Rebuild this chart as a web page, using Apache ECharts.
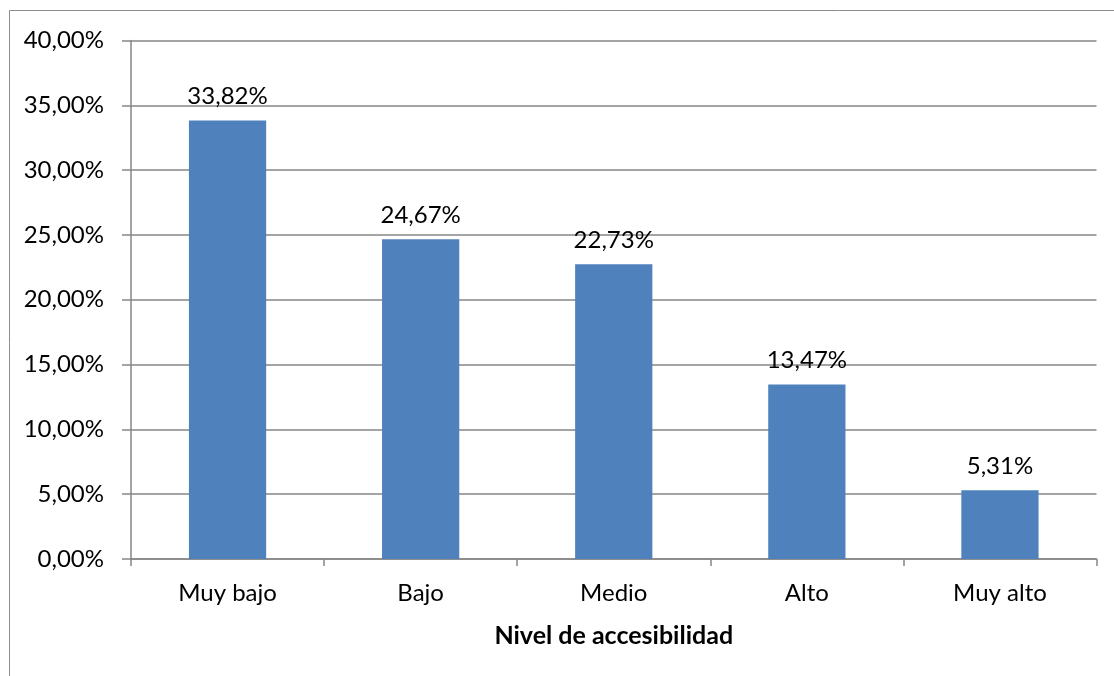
<!DOCTYPE html>
<html>
<head>
<meta charset="utf-8">
<script src="https://cdn.jsdelivr.net/npm/echarts@6/dist/echarts.min.js"></script>
<style>
html,body{margin:0;padding:0;background:#fff;}
#c{width:1114px;height:676px;}
</style>
</head>
<body>
<div id="c"></div>
<script>
const categories = ["Muy bajo", "Bajo", "Medio", "Alto", "Muy alto"];
const values = [33.82, 24.67, 22.73, 13.47, 5.31];
const axisTitle = "Nivel de accesibilidad";
const yMin = 0, yMax = 40, yStep = 5;

const fmt = v => v.toFixed(2).replace('.', ',') + '%';
const FONT = 'Lato';

const chart = echarts.init(document.getElementById('c'), null, {renderer: 'canvas'});
chart.setOption({
  animation: false,
  backgroundColor: '#ffffff',
  textStyle: {fontFamily: FONT},
  graphic: [{
    type: 'rect',
    shape: {x: 9.5, y: 10.5, width: 1200, height: 800},
    style: {fill: 'none', stroke: '#8c8c8c', lineWidth: 1},
    silent: true, z: -10
  }],
  grid: {left: 131, right: 17.5, top: 40.5, bottom: 117, containLabel: false},
  xAxis: {
    type: 'category',
    data: categories,
    axisLine: {show: true, lineStyle: {color: '#868686', width: 1.5}},
    axisTick: {show: true, alignWithLabel: false, length: 7, lineStyle: {color: '#868686', width: 1.5}},
    axisLabel: {color: '#000', fontFamily: FONT, fontSize: 24, margin: 22},
    name: axisTitle,
    nameLocation: 'middle',
    nameGap: 64,
    nameTextStyle: {color: '#000', fontFamily: FONT, fontSize: 25, fontWeight: 'bold', verticalAlign: 'top'}
  },
  yAxis: {
    type: 'value',
    min: yMin, max: yMax, interval: yStep,
    axisLine: {show: true, lineStyle: {color: '#868686', width: 1.5}},
    axisTick: {show: true, length: 9, lineStyle: {color: '#868686', width: 1.5}},
    splitLine: {show: true, lineStyle: {color: '#868686', width: 1.5}},
    axisLabel: {color: '#000', fontFamily: FONT, fontSize: 24, margin: 27, formatter: v => fmt(v)}
  },
  series: [{
    type: 'bar',
    data: values,
    barWidth: '40%',
    itemStyle: {color: '#4F81BD'},
    label: {show: true, position: 'top', distance: 12, color: '#000', fontFamily: FONT, fontSize: 24, formatter: p => fmt(p.value)}
  }]
});
</script>
</body>
</html>
